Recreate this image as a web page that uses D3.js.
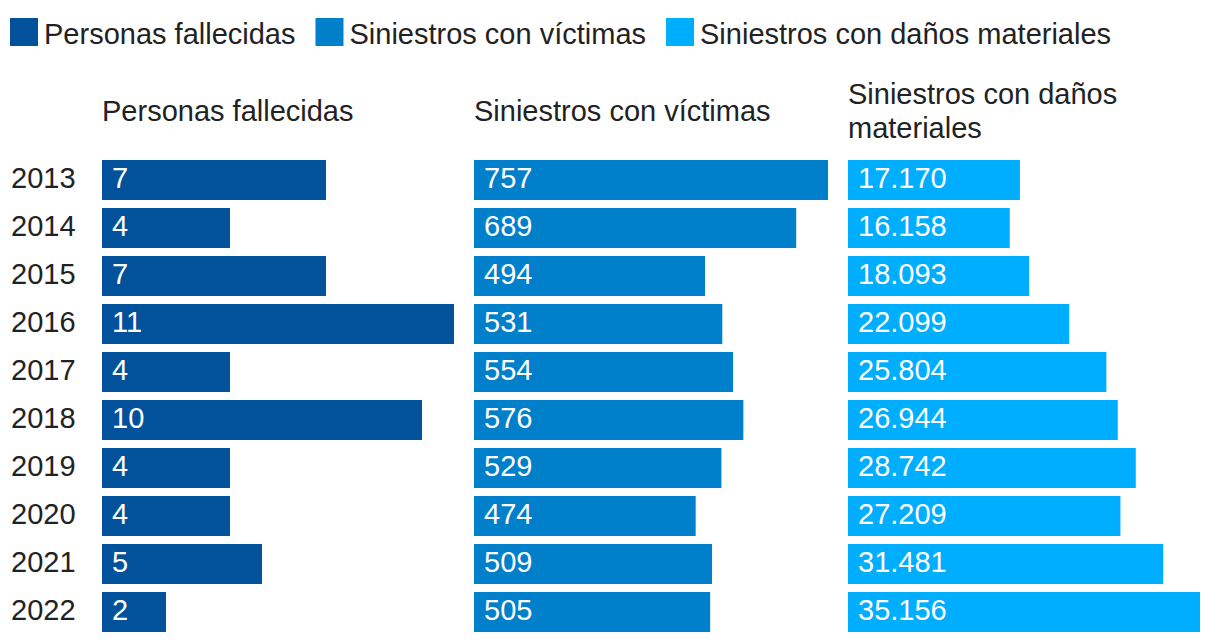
<!DOCTYPE html>
<html><head><meta charset="utf-8">
<script src="https://cdn.jsdelivr.net/npm/d3@7"></script>
<style>body{margin:0;background:#fff}svg{display:block}text{font-family:"Liberation Sans",Arial,sans-serif}</style>
</head><body><svg id="c" width="1220" height="642"></svg>
<script>
const years = ["2013","2014","2015","2016","2017","2018","2019","2020","2021","2022"];
const fallecidas = [7,4,7,11,4,10,4,4,5,2];
const victimas = [757,689,494,531,554,576,529,474,509,505];
const danos = [17170,16158,18093,22099,25804,26944,28742,27209,31481,35156];
const seriesNames = ["Personas fallecidas","Siniestros con víctimas","Siniestros con daños materiales"];
const titleLines = [["Personas fallecidas"],["Siniestros con víctimas"],["Siniestros con daños","materiales"]];
const colors = ["#02529b","#0080cb","#00aeff"];

const svg = d3.select("#c");
const fs = 29;
const loc = d3.formatLocale({decimal:",",thousands:".",grouping:[3],currency:["","€"]});
const fmt = loc.format(",d");

// legend
let lx = 10;
seriesNames.forEach((n,i)=>{
  svg.append("rect").attr("x",lx).attr("y",18).attr("width",28).attr("height",28).attr("fill",colors[i]);
  const t = svg.append("text").attr("x",lx+34).attr("y",44).attr("font-size",fs).attr("fill","#222").text(n);
  lx = lx + 34 + t.node().getComputedTextLength() + 20;
});

const y = d3.scaleBand().domain(years).range([156,636]).paddingInner(1/6).paddingOuter(1/12);

// year labels
svg.append("g").selectAll("text").data(years).join("text")
  .attr("x",11).attr("y",d=>y(d)+y.bandwidth()/2+8)
  .attr("font-size",fs).attr("fill","#222").text(d=>d);

const panels = [
  {x:102,w:352,data:fallecidas},
  {x:474,w:354,data:victimas},
  {x:848,w:352,data:danos}
];
panels.forEach((p,i)=>{
  const xs = d3.scaleLinear().domain([0,d3.max(p.data)]).range([0,p.w]);
  const g = svg.append("g").attr("transform",`translate(${p.x},0)`);
  const lines = titleLines[i];
  const lh = 34;
  const base = 121 - (lines.length-1)*lh/2;
  lines.forEach((l,k)=>{
    g.append("text").attr("x",0).attr("y",base+k*lh).attr("font-size",fs).attr("fill","#222").text(l);
  });
  g.selectAll("rect").data(p.data).join("rect")
    .attr("x",0).attr("y",(d,j)=>y(years[j])).attr("height",y.bandwidth())
    .attr("width",d=>xs(d)).attr("fill",colors[i]);
  g.selectAll("text.v").data(p.data).join("text").attr("class","v")
    .attr("x",10).attr("y",(d,j)=>y(years[j])+y.bandwidth()/2+8)
    .attr("font-size",fs).attr("fill","#fff").text(d=>fmt(d));
});
</script></body></html>
